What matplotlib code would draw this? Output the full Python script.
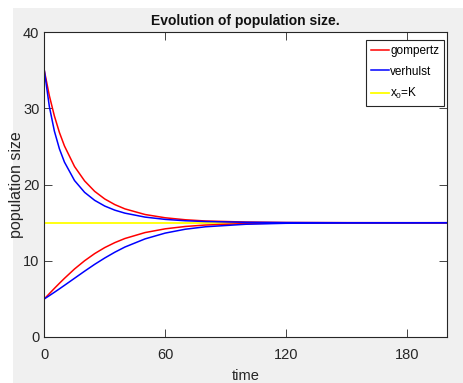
import matplotlib
matplotlib.use("Agg")
import matplotlib.pyplot as plt
from matplotlib.patches import Rectangle

# ---- data ----
time = [0, 2.5, 5, 7.5, 10, 15, 20, 25, 30, 35, 40, 50, 60, 70, 80, 100, 120, 150, 200]
gompertz_high = [35.0, 31.68, 29.02, 26.85, 25.08, 22.38, 20.49, 19.12, 18.12, 17.38, 16.82,
                 16.08, 15.65, 15.39, 15.23, 15.09, 15.03, 15.01, 15.0]
gompertz_low = [5.0, 5.69, 6.38, 7.05, 7.70, 8.93, 10.01, 10.95, 11.74, 12.39, 12.93,
                13.71, 14.20, 14.51, 14.70, 14.89, 14.96, 14.99, 15.0]
verhulst_high = [35.0, 30.26, 27.03, 24.70, 22.96, 20.54, 18.99, 17.94, 17.19, 16.65, 16.26,
                 15.74, 15.44, 15.26, 15.16, 15.06, 15.02, 15.0, 15.0]
verhulst_low = [5.0, 5.43, 5.87, 6.32, 6.78, 7.71, 8.64, 9.54, 10.37, 11.13, 11.81,
                12.88, 13.64, 14.15, 14.47, 14.80, 14.93, 14.98, 15.0]
K_time = [0, 200]
K_value = [15, 15]

xticks = [0, 60, 120, 180]
yticks = [0, 10, 20, 30, 40]
labels = ["gompertz", "verhulst", "x$_0$=K"]

plt.rcParams["font.family"] = ["Liberation Sans", "DejaVu Sans"]
plt.rcParams["mathtext.fontset"] = "custom"
plt.rcParams["mathtext.rm"] = "Liberation Sans"
plt.rcParams["mathtext.it"] = "Liberation Sans"

W, H = 463, 383
fig = plt.figure(figsize=(W / 100, H / 100), dpi=100)
fig.patch.set_facecolor("white")
fig.patches.append(Rectangle((13 / W, 0), 1 - 13 / W, 1 - 8 / H, transform=fig.transFigure,
                             facecolor="#f0f0f0", edgecolor="none", zorder=-10))

ax = fig.add_axes([44.3 / W, 1 - 337 / H, 403 / W, 304.7 / H])
ax.set_facecolor("white")

lw = 1.1
l1, = ax.plot(time, gompertz_high, color="#ff0000", lw=lw)
ax.plot(time, gompertz_low, color="#ff0000", lw=lw)
l2, = ax.plot(time, verhulst_high, color="#0000ff", lw=lw)
ax.plot(time, verhulst_low, color="#0000ff", lw=lw)
l3, = ax.plot(K_time, K_value, color="#ffff00", lw=lw + 0.2, zorder=1)

ax.set_xlim(0, 200)
ax.set_ylim(0, 40)
ax.set_xticks(xticks)
ax.set_yticks(yticks)
ax.tick_params(direction="in", length=6, width=0.6, color="#262626", labelsize=10.5,
               top=True, right=True, labelcolor="#262626")
ax.tick_params(axis="x", pad=8)
ax.tick_params(axis="y", pad=3.5)
for s in ax.spines.values():
    s.set_color("#262626")
    s.set_linewidth(0.8)

ax.set_title("Evolution of population size.", fontsize=10, fontweight="bold", pad=5,
             color="#111111")
ax.set_xlabel("time", fontsize=10.5, color="#262626", labelpad=5)
ax.set_ylabel("population size", fontsize=11.5, color="#262626")
ax.yaxis.set_label_coords(-0.05, 0.5)

leg = ax.legend([l1, l2, l3], labels, loc="upper right",
                bbox_to_anchor=(0.9926, 0.9747), borderaxespad=0, fontsize=8.5,
                handlelength=1.45, handletextpad=0.12, labelspacing=0.7,
                borderpad=0.45, fancybox=False, framealpha=1, edgecolor="#262626")
leg.get_frame().set_linewidth(0.8)

fig.savefig("out.png", dpi=100)
